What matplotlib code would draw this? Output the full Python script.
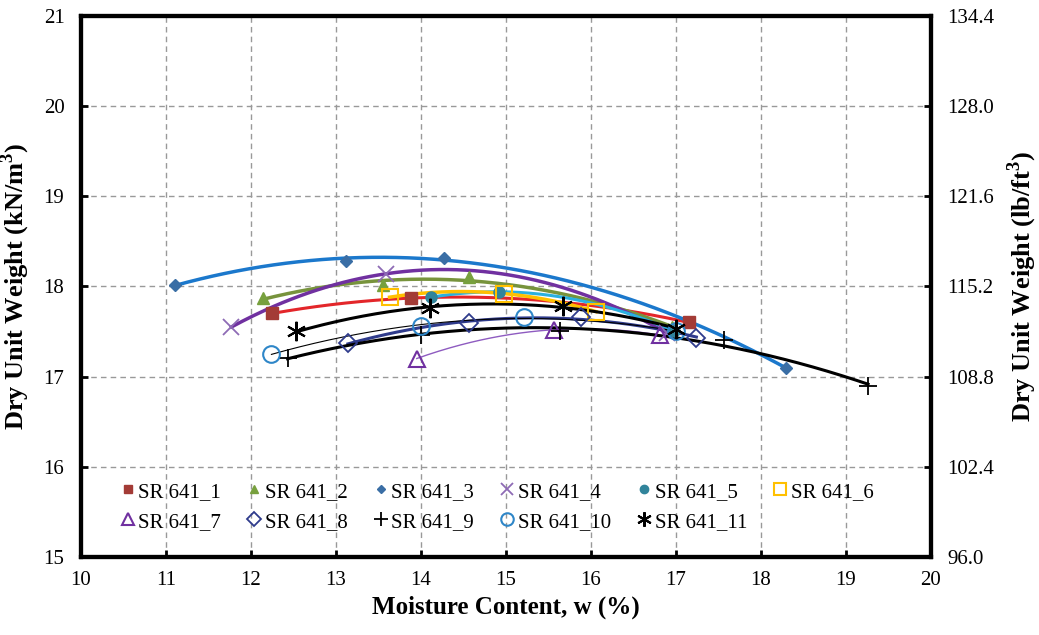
import numpy as np
import matplotlib
matplotlib.use("Agg")
import matplotlib.pyplot as plt
from matplotlib.lines import Line2D

plt.rcParams['font.family'] = ['Liberation Serif', 'DejaVu Serif']

names = ["SR 641_1", "SR 641_2", "SR 641_3", "SR 641_4", "SR 641_5", "SR 641_6",
         "SR 641_7", "SR 641_8", "SR 641_9", "SR 641_10", "SR 641_11"]

w1 = [12.25, 13.88, 17.15];            g1 = [17.70, 17.87, 17.60]
w2 = [12.14, 13.55, 14.57, 16.95];     g2 = [17.87, 18.02, 18.10, 17.55]
w3 = [11.11, 13.12, 14.27, 18.30];     g3 = [18.02, 18.28, 18.32, 17.09]
w4 = [11.77, 13.59, 16.90];            g4 = [17.55, 18.14, 17.48]
w5 = [14.12, 14.92, 16.98];            g5 = [17.88, 17.94, 17.50]
w6 = [13.63, 14.98, 16.06];            g6 = [17.88, 17.92, 17.72]
w7 = [13.95, 15.57, 16.81];            g7 = [17.20, 17.52, 17.46]
w8 = [13.14, 14.57, 15.88, 17.24];     g8 = [17.37, 17.59, 17.66, 17.43]
w9 = [12.43, 14.00, 15.63, 17.57, 19.26]; g9 = [17.21, 17.46, 17.50, 17.40, 16.89]
w10 = [12.24, 14.00, 15.21, 17.00];    g10 = [17.25, 17.56, 17.66, 17.50]
w11 = [12.53, 14.10, 15.67, 17.00];    g11 = [17.50, 17.76, 17.78, 17.53]

ws = [w1, w2, w3, w4, w5, w6, w7, w8, w9, w10, w11]
gs = [g1, g2, g3, g4, g5, g6, g7, g8, g9, g10, g11]

xticks = [10, 11, 12, 13, 14, 15, 16, 17, 18, 19, 20]
yticks = [15, 16, 17, 18, 19, 20, 21]
rticks = [96.0, 102.4, 108.8, 115.2, 121.6, 128.0, 134.4]

styles = [
    dict(marker='s', mfc='#A33B36', mec='#A33B36', ms=8, lc='#E3262A', lw=2.2),
    dict(marker='^', mfc='#77A03E', mec='#77A03E', ms=8, lc='#77933C', lw=2.5),
    dict(marker='D', mfc='#3A6EA5', mec='#3A6EA5', ms=6, lc='#1B78CC', lw=2.5),
    dict(marker='x', mfc='none', mec='#8E6BB5', ms=11, lc='#7030A0', lw=2.5, mew=1.3),
    dict(marker='o', mfc='#31849B', mec='#31849B', ms=8, lc='#2AB0E0', lw=2.2),
    dict(marker='s', mfc='none', mec='#FFC000', ms=12, lc='#FFC000', lw=2.5, mew=1.5),
    dict(marker='^', mfc='none', mec='#7030A0', ms=12, lc='#8E5BC0', lw=1.0, mew=1.5),
    dict(marker='D', mfc='none', mec='#2F3B8C', ms=9, lc='#2F3B8C', lw=2.2, mew=1.3),
    dict(marker='+', mfc='none', mec='black', ms=13, lc='black', lw=2.2, mew=1.3),
    dict(marker='o', mfc='none', mec='#2E86C8', ms=12, lc='black', lw=0.8, mew=1.5),
    dict(marker=(6, 2, 0), mfc='none', mec='black', ms=14, lc='black', lw=2.2, mew=1.5),
]

fig = plt.figure(figsize=(10.39, 6.35), dpi=100)
ax = fig.add_axes([0.078, 0.123, 0.818, 0.852])

for name, w, g, st in zip(names, ws, gs, styles):
    deg = 2 if len(w) > 2 else 1
    c = np.polyfit(w, g, deg)
    xs = np.linspace(min(w), max(w), 200)
    ax.plot(xs, np.polyval(c, xs), color=st['lc'], lw=st['lw'], zorder=2)
    ax.plot(w, g, linestyle='none', marker=st['marker'], mfc=st['mfc'], mec=st['mec'],
            ms=st['ms'], mew=st.get('mew', 1.0), zorder=3, label=name)

ax.set_xlim(10, 20)
ax.set_ylim(15, 21)
ax.set_xticks(xticks)
ax.set_yticks(yticks)
ax.grid(True, linestyle=(0, (4, 3)), color='#999999', lw=1.0)
ax.tick_params(direction='in', length=5, width=2, labelsize=15)
ax.tick_params(axis='x', pad=10)
ax.tick_params(axis='y', pad=12)
for s in ax.spines.values():
    s.set_linewidth(3)

ax.set_xlabel('Moisture Content, w (%)', fontsize=18, fontweight='bold', labelpad=4)
ax.set_ylabel('Dry Unit Weight (kN/m$^\\mathregular{3}$)', fontsize=19, fontweight='bold', labelpad=8)

ax2 = ax.twinx()
ax2.set_ylim(96.0, 134.4)
ax2.set_yticks(rticks)
ax2.set_yticklabels([f"{v:.1f}" for v in rticks])
ax2.tick_params(direction='in', length=5, width=2, labelsize=15, pad=12)
for s in ax2.spines.values():
    s.set_linewidth(3)
ax2.set_ylabel('Dry Unit Weight (lb/ft$^\\mathregular{3}$)', fontsize=19, fontweight='bold', labelpad=8)

handles, labels = ax.get_legend_handles_labels()
rows = 2
ncol = 6
blank = Line2D([], [], linestyle='none')
h2 = [blank] * (rows * ncol)
l2 = [''] * (rows * ncol)
for i, (h, l) in enumerate(zip(handles, labels)):
    r, cidx = divmod(i, ncol)
    h2[cidx * rows + r] = h
    l2[cidx * rows + r] = l
ax.legend(h2, l2, ncol=ncol, loc='lower left', bbox_to_anchor=(0.023, 0.012),
          frameon=False, fontsize=15, handlelength=0.8, handletextpad=0.1,
          columnspacing=1.2, labelspacing=0.5, markerscale=0.75)

fig.savefig('out.png', dpi=100)
